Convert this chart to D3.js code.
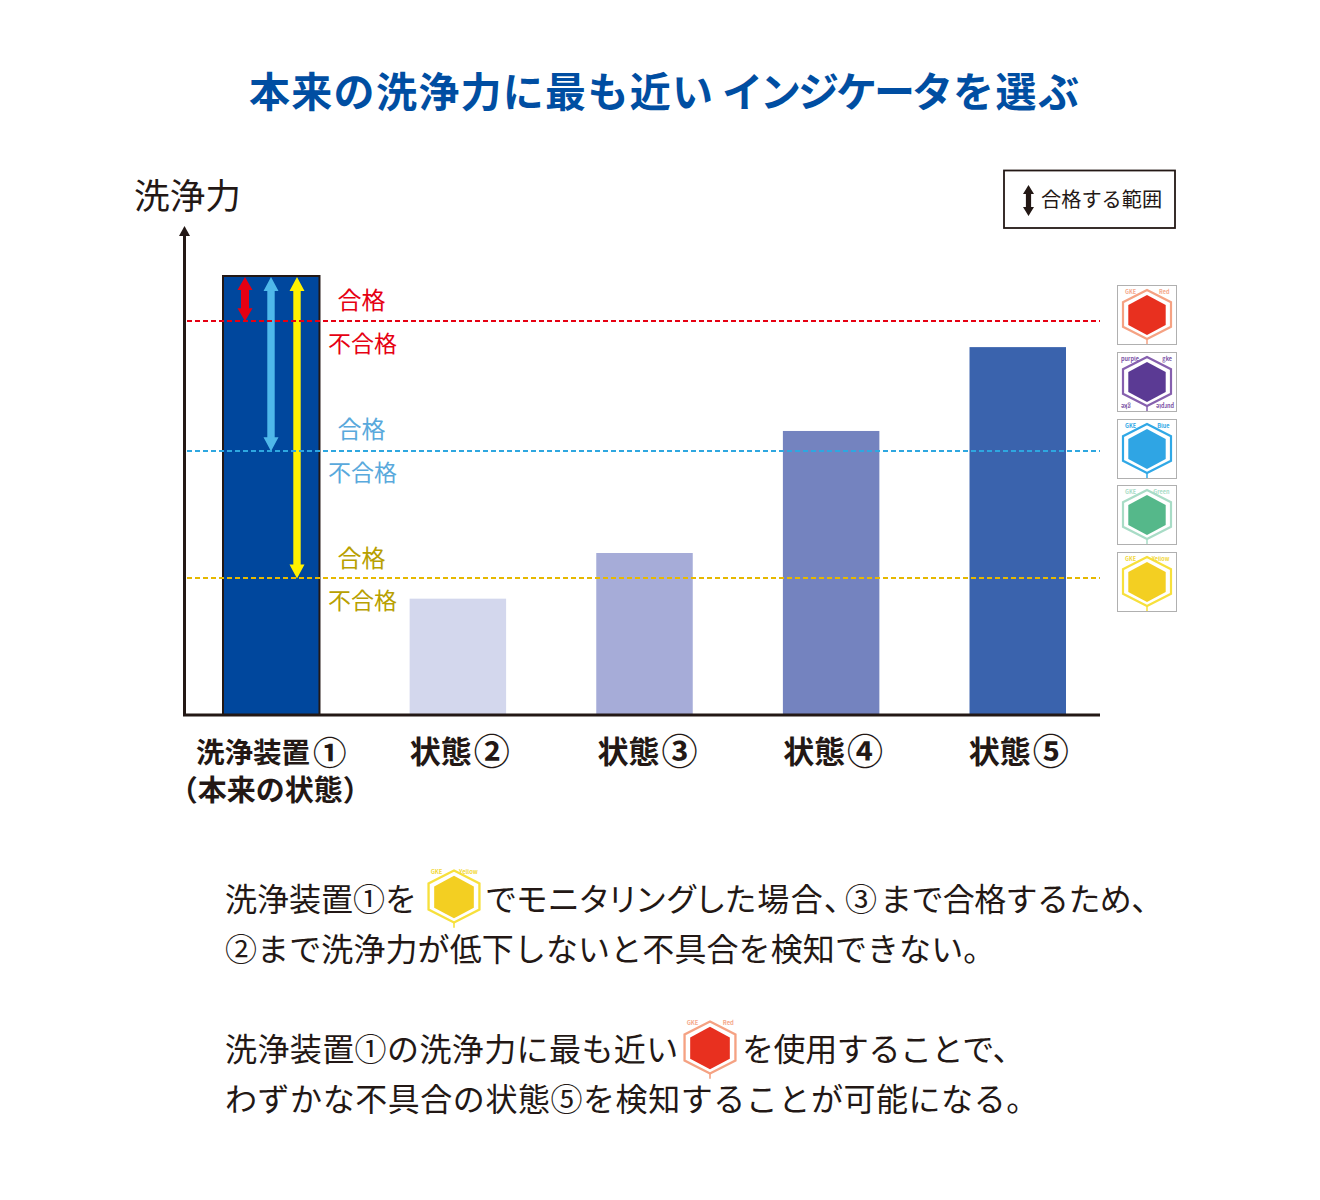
<!DOCTYPE html>
<html lang="ja"><head><meta charset="utf-8">
<script src="https://cdn.jsdelivr.net/npm/d3@7"></script>
<style>html,body{margin:0;background:#fff}svg{display:block}text{font-family:"Noto Sans CJK JP","Noto Sans CJK SC",sans-serif}</style>
</head><body><svg id="c" width="1320" height="1200"></svg>
<script>
const categories=["洗浄装置①","状態②","状態③","状態④","状態⑤"];
const values=[100,26.5,36.9,64.7,83.8];
const barColors=["#00479d","#d3d7ed","#a6acd8","#7483bf","#3a63ad"];
const thresholds=[89.7,60.1,31.1];
const thresholdColors=["#e60012","#2ea7e0","#e6b800"];
const passLabelColors=["#e60012","#59a9dc","#b8a000"];
const arrowColors=["#e60012","#4fb8ea","#fff100"];
const iconNames=["Red","purple","Blue","Green","Yellow"];
const iconFill=["#e8301f","#5b3a94","#2fa5e4","#55b88a","#f3cf22"];
const iconLine=["#f5a283","#8660ae","#30a8e6","#a8dcc6","#f7e03c"];
const iconLabel=["#f5a98c","#7b54a6","#30a8e6","#a8dcc6","#f2d83c"];

const svg=d3.select("#c");
const ink="#231815";
const x=d3.scaleBand().domain(categories).range([223,1066]).paddingInner(0.483).paddingOuter(0);
const y=d3.scaleLinear().domain([0,100]).range([715,276]);

// title, set in three runs because the katakana is tighter than the rest
const titleRuns=[[249,1.3,"本来の洗浄力に最も近い"],[722,-3,"インジケータ"],[953,1.5,"を選ぶ"]];
svg.append("text").attr("y",107).attr("font-size",41).attr("font-weight",700).attr("fill","#004ea2")
  .selectAll("tspan").data(titleRuns).join("tspan")
  .attr("x",d=>d[0]).attr("letter-spacing",d=>d[1]).text(d=>d[2]);
svg.append("text").attr("x",134).attr("y",209).attr("font-size",35.7).attr("fill",ink).text("洗浄力");

// legend
svg.append("rect").attr("x",1004).attr("y",170.5).attr("width",171).attr("height",57.5).attr("fill","#fff").attr("stroke",ink).attr("stroke-width",1.8);
function dblArrow(g,cx,y0,y1,sw,hw,hh,col){
  const p=d3.path();
  p.moveTo(cx,y0);p.lineTo(cx+hw,y0+hh);p.lineTo(cx+sw,y0+hh);p.lineTo(cx+sw,y1-hh);p.lineTo(cx+hw,y1-hh);p.lineTo(cx,y1);
  p.lineTo(cx-hw,y1-hh);p.lineTo(cx-sw,y1-hh);p.lineTo(cx-sw,y0+hh);p.lineTo(cx-hw,y0+hh);p.closePath();
  g.append("path").attr("d",p.toString()).attr("fill",col);
}
dblArrow(svg,1028.5,185,216,2.6,5.5,9,ink);
svg.append("text").attr("x",1041).attr("y",207).attr("font-size",20.2).attr("fill",ink).text("合格する範囲");

// bars
svg.append("g").selectAll("rect").data(categories).join("rect")
  .attr("x",d=>x(d)).attr("width",x.bandwidth())
  .attr("y",(d,i)=>y(values[i])).attr("height",(d,i)=>y(0)-y(values[i]))
  .attr("fill",(d,i)=>barColors[i])
  .attr("stroke",(d,i)=>i===0?ink:"none").attr("stroke-width",2);

// arrows in first bar
const arrowX=[245,271,297];
thresholds.forEach((t,i)=>dblArrow(svg,arrowX[i],y(100)+1,y(t),i===0?4:3.7,7.5,i===0?13:14,arrowColors[i]));

// threshold lines and labels
thresholds.forEach((t,i)=>{
  const ly=Math.round(y(t));
  svg.append("line").attr("x1",187).attr("x2",1100).attr("y1",ly).attr("y2",ly)
    .attr("stroke",thresholdColors[i]).attr("stroke-width",2).attr("stroke-dasharray","5 3");
  svg.append("text").attr("x",361.5).attr("y",ly-12-(i===1?1:0)+(i===2?1:0)).attr("text-anchor","middle").attr("font-size",24).attr("fill",passLabelColors[i]).text("合格");
  svg.append("text").attr("x",362.5).attr("y",ly+31-(i===1?1:0)).attr("text-anchor","middle").attr("font-size",23).attr("fill",passLabelColors[i]).text("不合格");
});

// axes
const xAxis=d3.axisBottom(x).tickSize(0).tickPadding(48);
const ax=svg.append("g").attr("transform","translate(0,715)").call(xAxis);
ax.select(".domain").remove();
const labelNudge=[0,2,3,2,1];
ax.selectAll("text").each(function(d,i){
  const t=d3.select(this).text(null).attr("dy",0).attr("dx",labelNudge[i]).attr("fill",ink)
    .attr("font-weight",700).attr("font-family",'"Noto Sans CJK JP"');
  t.append("tspan").attr("font-size",i===0?28.5:31).text(d.slice(0,-1));
  t.append("tspan").attr("font-size",i===0?33.5:36).attr("dx",i===0?3:2).attr("dy",2).text(d.slice(-1));
  if(i===0) t.append("tspan").attr("x",-1).attr("dy",36).attr("font-size",29).text("（本来の状態）");
});
svg.append("line").attr("x1",183).attr("x2",1100).attr("y1",715).attr("y2",715).attr("stroke",ink).attr("stroke-width",3);
svg.append("line").attr("x1",184.5).attr("x2",184.5).attr("y1",716).attr("y2",232).attr("stroke",ink).attr("stroke-width",3);
svg.append("path").attr("d",d3.line()([[184.5,226],[190,236],[179,236]])+"Z").attr("fill",ink);

// indicators
function hex(g,cx,cy,rx,ry){
  const a=[[cx,cy-ry],[cx+rx,cy-ry/2],[cx+rx,cy+ry/2],[cx,cy+ry],[cx-rx,cy+ry/2],[cx-rx,cy-ry/2]];
  return g.append("path").attr("d",d3.line()(a)+"Z");
}
function icon(g,cx,cy,i,s){
  hex(g,cx,cy,24*s,24.5*s).attr("fill","#fff").attr("stroke",iconLine[i]).attr("stroke-width",2.2*s);
  hex(g,cx,cy+0.5*s,18.7*s,20*s).attr("fill",iconFill[i]);
  g.append("line").attr("x1",cx).attr("x2",cx).attr("y1",cy+24.5*s).attr("y2",cy+29.5*s).attr("stroke",iconLine[i]).attr("stroke-width",1.5*s);
  const l=g.append("g").attr("font-size",5.5*s).attr("font-weight",700).attr("fill",iconLabel[i]);
  l.append("text").attr("x",cx-(i===1?26:22)*s).attr("y",cy-21*s).text(i===1?"purple":"GKE");
  l.append("text").attr("x",cx+(i===1?25:22.5)*s).attr("y",cy-21*s).attr("text-anchor","end").text(i===1?"gke":iconNames[i]);
  if(i===1){
    l.append("text").attr("transform",`translate(${cx-26*s},${cy+22*s}) rotate(180)`).attr("text-anchor","end").text("gke");
    l.append("text").attr("transform",`translate(${cx+27*s},${cy+22*s}) rotate(180)`).attr("text-anchor","start").text("purple");
  }
}
const iconBoxY=[285,352,419,485,552];
iconNames.forEach((n,i)=>{
  svg.append("rect").attr("x",1117.5).attr("y",iconBoxY[i]+.5).attr("width",59).attr("height",59).attr("fill","#fff").attr("stroke","#b0b0b0").attr("stroke-width",1);
  icon(svg,1147,iconBoxY[i]+29.5,i,1);
});
icon(svg,454,896.5,4,1.06);
icon(svg,710,1047.5,0,1.06);

// explanation: one text per line, one tspan per run
const bodySegments=[
 [225,911,0,"洗浄装置①を"],[486,911,1.4,"でモニタリングした場合、"],[845,911,0,"③"],[880,911,-0.6,"まで合格するため、"],
 [225,961,0.1,"②まで洗浄力が低下しないと不具合を検知できない。"],
 [225,1061,0.4,"洗浄装置①の洗浄力に最も近い"],[742,1061,-0.4,"を使用することで、"],
 [225,1111,0.55,"わずかな不具合の状態⑤を検知することが可能になる。"]];
svg.append("g").selectAll("text").data(d3.groups(bodySegments,d=>d[1])).join("text")
 .attr("y",d=>d[0]).attr("font-size",32).attr("fill",ink)
 .selectAll("tspan").data(d=>d[1]).join("tspan")
 .attr("x",d=>d[0]).attr("letter-spacing",d=>d[2])
 .style("font-feature-settings",d=>d[0]===486?'"palt"':null).text(d=>d[3]);
</script></body></html>
